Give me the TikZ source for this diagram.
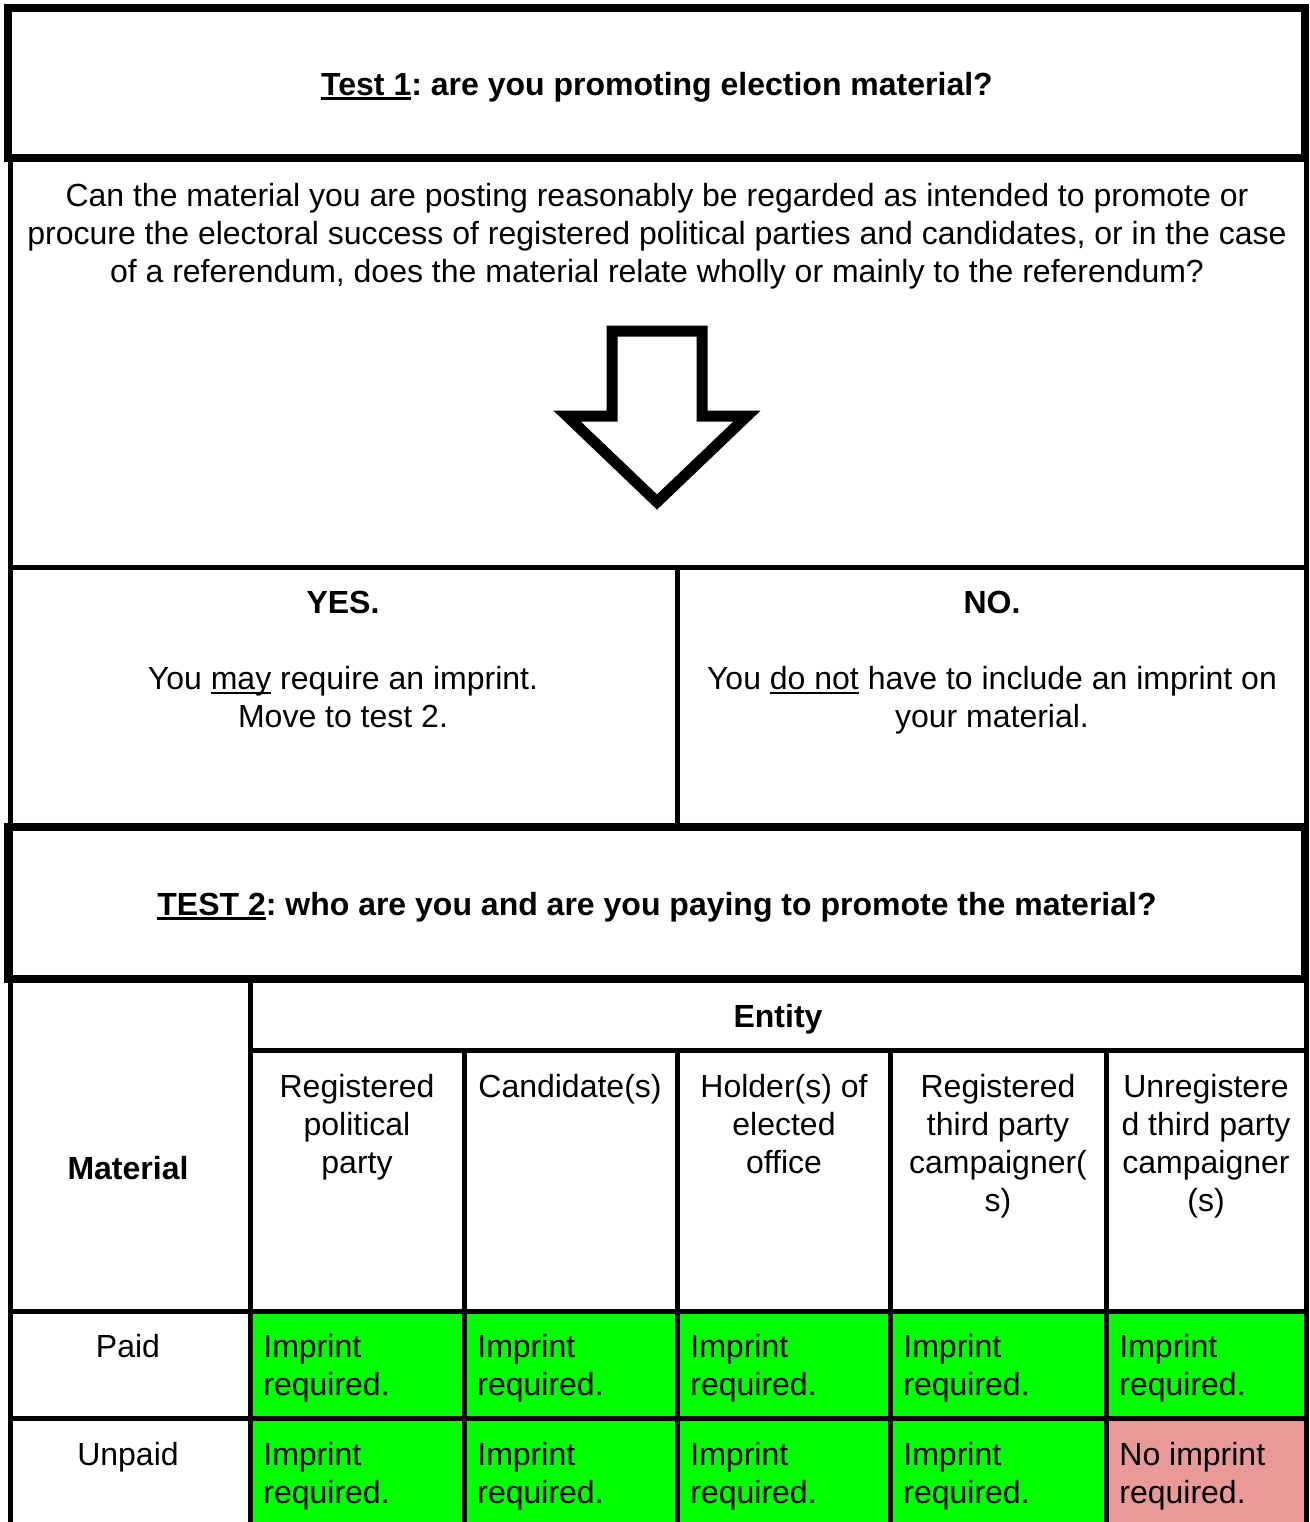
\documentclass[tikz,border=0pt]{standalone}
\usepackage{fontspec}
\setmainfont{Liberation Sans}
\definecolor{cellgreen}{HTML}{00FF00}
\definecolor{cellpink}{HTML}{EA9999}
\newcommand{\undl}[1]{\setbox0\hbox{#1}\rlap{\rule[-0.15em]{\wd0}{0.075em}}\box0\relax}
\tikzset{
  heavyline/.style={draw=black,line width=4pt},
  gridline/.style={draw=black,line width=2.5pt},
  txt/.style={inner sep=0pt,font=\fontsize{16}{19}\selectfont\frenchspacing,align=center},
  boldtxt/.style={inner sep=0pt,font=\fontsize{16}{19}\selectfont\bfseries\frenchspacing,align=center},
  celltxt/.style={inner sep=0pt,font=\fontsize{16}{19}\selectfont,align=left,anchor=north west},
}
\begin{document}
\begin{tikzpicture}[x=0.5pt,y=-0.5pt]
\useasboundingbox (0,0) rectangle (1310,1522);
\clip (0,0) rectangle (1310,1522);
\fill[white] (0,0) rectangle (1310,1522);
% coloured cells
\fill[cellgreen] (250,1311) rectangle (464,1418);
\fill[cellgreen] (464,1311) rectangle (677,1418);
\fill[cellgreen] (677,1311) rectangle (890,1418);
\fill[cellgreen] (890,1311) rectangle (1106,1418);
\fill[cellgreen] (1106,1311) rectangle (1306,1418);
\fill[cellgreen] (250,1418) rectangle (464,1540);
\fill[cellgreen] (464,1418) rectangle (677,1540);
\fill[cellgreen] (677,1418) rectangle (890,1540);
\fill[cellgreen] (890,1418) rectangle (1106,1540);
\fill[cellpink] (1106,1418) rectangle (1306,1540);
% grid
\draw[gridline] (10,157) -- (10,1540);
\draw[gridline] (1306,157) -- (1306,1540);
\draw[gridline] (10,567) -- (1306,567);
\draw[gridline] (677,567) -- (677,827);
\draw[gridline] (250,979) -- (250,1540);
\draw[gridline] (250,1050) -- (1306,1050);
\draw[gridline] (464,1050) -- (464,1540);
\draw[gridline] (677,1050) -- (677,1540);
\draw[gridline] (890,1050) -- (890,1540);
\draw[gridline] (1106,1050) -- (1106,1540);
\draw[gridline] (10,1311) -- (1306,1311);
\draw[gridline] (10,1418) -- (1306,1418);
\draw[heavyline] (8,8) rectangle (1305,158);
\draw[heavyline] (8,827) rectangle (1305,979);
% down arrow
\draw[line width=5.5pt,line join=miter,miter limit=10] (612,331) -- (702,331) -- (702,416) -- (747,416) -- (657,502) -- (567,416) -- (612,416) -- cycle;
% texts
\node[boldtxt,anchor=base] (test1) at (657,95) {\undl{Test 1}: are you promoting election material?};
\node[txt,anchor=north] (question) at (657,183) {Can the material you are posting reasonably be regarded as intended to promote or\\procure the electoral success of registered political parties and candidates, or in the case\\of a referendum, does the material relate wholly or mainly to the referendum?};
\node[boldtxt,anchor=base] (yes) at (343,613) {YES.};
\node[txt,anchor=north] (yestxt) at (343,666) {You \undl{may} require an imprint.\\Move to test 2.};
\node[boldtxt,anchor=base] (no) at (992,613) {NO.};
\node[txt,anchor=north] (notxt) at (992,666) {You \undl{do not} have to include an imprint on\\your material.};
\node[boldtxt,anchor=base] (test2) at (657,915) {\undl{TEST 2}: who are you and are you paying to promote the material?};
\node[boldtxt,anchor=base] (entity) at (778,1027) {Entity};
\node[boldtxt,anchor=base] (material) at (128,1179) {Material};
\node[txt,anchor=north] (party) at (357,1074) {Registered\\political\\party};
\node[txt,anchor=north] (candidate) at (570,1074) {Candidate(s)};
\node[txt,anchor=north] (holder) at (784,1074) {Holder(s) of\\elected\\office};
\node[txt,anchor=north] (regthird) at (998,1074) {Registered\\third party\\campaigner(\\s)};
\node[txt,anchor=north] (unregthird) at (1206,1074) {Unregistere\\d third party\\campaigner\\(s)};
\node[txt,anchor=base] (paid) at (128,1357) {Paid};
\node[txt,anchor=base] (unpaid) at (128,1465) {Unpaid};
\node[celltxt] (paidA) at (263,1334) {Imprint\\required.};
\node[celltxt] (paidB) at (477,1334) {Imprint\\required.};
\node[celltxt] (paidC) at (690,1334) {Imprint\\required.};
\node[celltxt] (paidD) at (903,1334) {Imprint\\required.};
\node[celltxt] (paidE) at (1119,1334) {Imprint\\required.};
\node[celltxt] (unpaidA) at (263,1442) {Imprint\\required.};
\node[celltxt] (unpaidB) at (477,1442) {Imprint\\required.};
\node[celltxt] (unpaidC) at (690,1442) {Imprint\\required.};
\node[celltxt] (unpaidD) at (903,1442) {Imprint\\required.};
\node[celltxt] (unpaidE) at (1119,1442) {No imprint\\required.};
\end{tikzpicture}
\end{document}
